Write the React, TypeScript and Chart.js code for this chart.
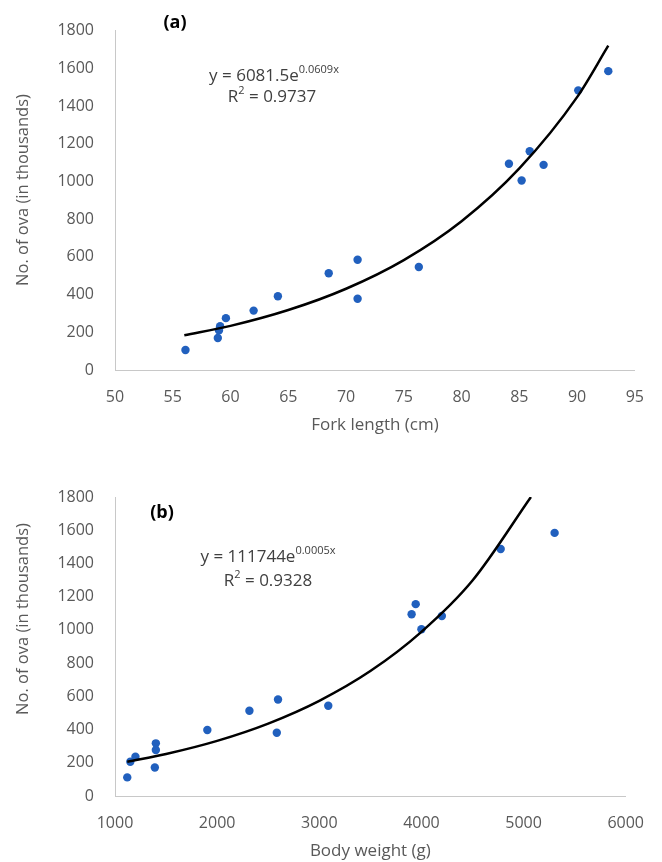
import { useEffect, useRef } from "react";
import { Chart, registerables } from "chart.js";

Chart.register(...registerables);

// ---- Panel (a): fork length vs number of ova ----
const forkLength = [56.1, 58.9, 59.0, 59.1, 59.6, 62.0, 64.1, 68.5, 71.0, 71.0, 76.3, 84.1, 85.2, 85.9, 87.1, 90.1, 92.7];
const ovaA = [106, 170, 210, 232, 275, 315, 391, 513, 585, 378, 546, 1094, 1005, 1160, 1088, 1483, 1585];
const trendAX = [56, 60, 65, 70, 75, 80, 85, 90, 92.7];
const trendAY = [184, 234, 318, 431, 583, 789, 1069, 1447, 1720];
const xTicksA = { min: 50, max: 95, step: 5 };

// ---- Panel (b): body weight vs number of ova ----
const bodyWeight = [1120, 1150, 1200, 1400, 1400, 1390, 1904, 2316, 2596, 2584, 3088, 3904, 3944, 4000, 4200, 4776, 5304];
const ovaB = [112, 206, 236, 317, 277, 172, 397, 513, 581, 381, 543, 1094, 1155, 1004, 1084, 1487, 1584];
const trendBX = [1120, 1500, 2000, 2500, 3000, 3500, 4000, 4500, 5072];
const trendBY = [206, 253, 332, 436, 573, 752, 988, 1297, 1800];
const xTicksB = { min: 1000, max: 6000, step: 1000 };

const yTicks = { min: 0, max: 1800, step: 200 };

const FONT = "'Open Sans', 'Noto Sans', sans-serif";
const GREY = "#595959";
const DOT = "#2160BE";

type Annot = {
  label: string;
  labelX: number;
  labelY: number;
  eqMain: string;
  eqSup: string;
  eqX: number;
  eqY: number;
  r2: string;
  r2X: number;
  r2Y: number;
  yTitle: string;
  yTitleX: number;
  yTitleY: number;
};

const annotPlugin = {
  id: "annot",
  afterDraw(chart: any, _args: any, o: Annot) {
    const ctx = chart.ctx as CanvasRenderingContext2D;
    ctx.save();
    ctx.textBaseline = "middle";
    // panel label
    ctx.font = `bold 18px ${FONT}`;
    ctx.fillStyle = "#000";
    ctx.textAlign = "center";
    ctx.fillText(o.label, o.labelX, o.labelY);

    // equation
    const mainFont = `17px ${FONT}`;
    const supFont = `11px ${FONT}`;
    ctx.fillStyle = "#404040";
    ctx.textAlign = "left";
    ctx.font = mainFont;
    const w1 = ctx.measureText(o.eqMain).width;
    ctx.font = supFont;
    const w2 = ctx.measureText(o.eqSup).width;
    let sx = o.eqX - (w1 + w2) / 2;
    ctx.font = mainFont;
    ctx.fillText(o.eqMain, sx, o.eqY);
    ctx.font = supFont;
    ctx.fillText(o.eqSup, sx + w1, o.eqY - 6);

    // R^2
    ctx.font = mainFont;
    const wr = ctx.measureText("R").width;
    const rest = " = " + o.r2;
    const wrest = ctx.measureText(rest).width;
    ctx.font = supFont;
    const w2s = ctx.measureText("2").width;
    sx = o.r2X - (wr + w2s + wrest) / 2;
    ctx.font = mainFont;
    ctx.fillText("R", sx, o.r2Y);
    ctx.font = supFont;
    ctx.fillText("2", sx + wr, o.r2Y - 6);
    ctx.font = mainFont;
    ctx.fillText(rest, sx + wr + w2s, o.r2Y);

    // y-axis title
    ctx.save();
    ctx.translate(o.yTitleX, o.yTitleY);
    ctx.rotate(-Math.PI / 2);
    ctx.textAlign = "center";
    ctx.fillStyle = GREY;
    ctx.font = `16.5px ${FONT}`;
    ctx.fillText(o.yTitle, 0, 0);
    ctx.restore();

    ctx.restore();
  },
};

function makeConfig(
  xs: number[],
  ys: number[],
  tx: number[],
  ty: number[],
  xr: { min: number; max: number; step: number },
  xTitle: string,
  padTop: number,
  padRight: number,
  padBottom: number,
  annot: Annot
): any {
  const pts = xs.map((x, i) => ({ x, y: ys[i] }));
  const trend = tx.map((x, i) => ({ x, y: ty[i] }));
  const tickFont = { family: FONT, size: 16 };
  const plain = (v: any) => String(v);
  return {
    type: "scatter",
    data: {
      datasets: [
        {
          type: "line",
          data: trend,
          borderColor: "#000",
          borderWidth: 2.5,
          pointRadius: 0,
          fill: false,
          tension: 0.4,
          cubicInterpolationMode: "monotone",
          order: 0,
        },
        {
          type: "scatter",
          data: pts,
          backgroundColor: DOT,
          borderColor: DOT,
          borderWidth: 0,
          pointRadius: 4.2,
          order: 1,
        },
      ],
    },
    options: {
      animation: false,
      responsive: false,
      maintainAspectRatio: false,
      layout: { padding: { left: 0, top: padTop, right: padRight, bottom: padBottom } },
      plugins: {
        legend: { display: false },
        tooltip: { enabled: false },
        annot,
      },
      scales: {
        x: {
          type: "linear",
          min: xr.min,
          max: xr.max,
          ticks: { stepSize: xr.step, color: GREY, font: tickFont, padding: 18, callback: plain },
          grid: { display: false, drawTicks: false },
          border: { display: true, color: "#c8c8c8", width: 1 },
          title: {
            display: true,
            text: xTitle,
            color: GREY,
            font: { family: FONT, size: 17 },
            padding: 0,
          },
          afterFit: (s: any) => {
            s.height = 65;
          },
        },
        y: {
          type: "linear",
          min: yTicks.min,
          max: yTicks.max,
          ticks: { stepSize: yTicks.step, color: GREY, font: tickFont, padding: 21, callback: plain },
          grid: { display: false, drawTicks: false },
          border: { display: true, color: "#c8c8c8", width: 1 },
          afterFit: (s: any) => {
            s.width = 115;
          },
        },
      },
    },
    plugins: [annotPlugin],
  };
}

export default function App() {
  const refA = useRef<HTMLCanvasElement>(null);
  const refB = useRef<HTMLCanvasElement>(null);

  useEffect(() => {
    const ca = new Chart(
      refA.current!,
      makeConfig(forkLength, ovaA, trendAX, trendAY, xTicksA, "Fork length (cm)", 26, 18, 5, {
        label: "(a)",
        labelX: 175,
        labelY: 23,
        eqMain: "y = 6081.5e",
        eqSup: "0.0609x",
        eqX: 274,
        eqY: 76,
        r2: "0.9737",
        r2X: 272,
        r2Y: 97,
        yTitle: "No. of ova (in thousands)",
        yTitleX: 23,
        yTitleY: 190,
      })
    );
    const cb = new Chart(
      refB.current!,
      makeConfig(bodyWeight, ovaB, trendBX, trendBY, xTicksB, "Body weight (g)", 57, 19, 1, {
        label: "(b)",
        labelX: 162,
        labelY: 73,
        eqMain: "y = 111744e",
        eqSup: "0.0005x",
        eqX: 268,
        eqY: 117,
        r2: "0.9328",
        r2X: 268,
        r2Y: 141,
        yTitle: "No. of ova (in thousands)",
        yTitleX: 23,
        yTitleY: 179,
      })
    );
    return () => {
      ca.destroy();
      cb.destroy();
    };
  }, []);

  return (
    <div style={{ position: "absolute", left: 0, top: 0, width: 662, height: 862, background: "#fff" }}>
      <canvas ref={refA} width={662} height={440} style={{ position: "absolute", left: 0, top: 0, display: "block" }} />
      <canvas ref={refB} width={662} height={422} style={{ position: "absolute", left: 0, top: 440, display: "block" }} />
    </div>
  );
}
